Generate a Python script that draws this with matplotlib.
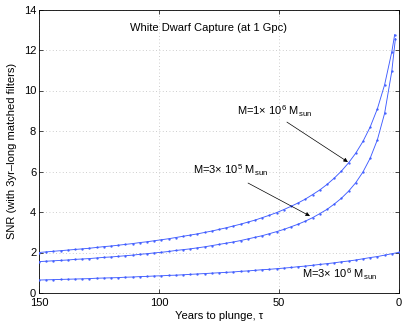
"""
White dwarf capture SNR vs. years to plunge (MATLAB-style line plot).
"""

import matplotlib
matplotlib.use('Agg')
import matplotlib.pyplot as plt

matplotlib.rcParams['font.family'] = ['Liberation Sans', 'DejaVu Sans']
matplotlib.rcParams['mathtext.fontset'] = 'custom'
matplotlib.rcParams['mathtext.rm'] = 'Liberation Sans'
matplotlib.rcParams['mathtext.it'] = 'Liberation Sans:italic'
matplotlib.rcParams['axes.unicode_minus'] = False

# ── data ─────────────────────────────────────────────────────────────────────
tau = [150, 147, 144, 141, 138, 135, 132, 129, 126, 123,
       120, 117, 114, 111, 108, 105, 102, 99, 96, 93,
       90, 87, 84, 81, 78, 75, 72, 69, 66, 63,
       60, 57, 54, 51, 48, 45, 42, 39, 36, 33,
       30, 27, 24, 21, 18, 15, 12, 9, 6, 3]

snr_1e6 = [2.00, 2.03, 2.06, 2.09, 2.12, 2.15, 2.18, 2.21, 2.25, 2.29,
           2.32, 2.36, 2.40, 2.44, 2.49, 2.53, 2.58, 2.63, 2.68, 2.74,
           2.80, 2.86, 2.92, 2.99, 3.06, 3.14, 3.22, 3.31, 3.40, 3.50,
           3.60, 3.72, 3.84, 3.97, 4.12, 4.28, 4.45, 4.64, 4.86, 5.09,
           5.36, 5.67, 6.02, 6.43, 6.91, 7.49, 8.20, 9.10, 10.28, 11.91]
tau_1e6_end = 1.8
snr_1e6_end = 12.76

snr_3e5 = [1.55, 1.57, 1.59, 1.61, 1.63, 1.66, 1.68, 1.70, 1.73, 1.76,
           1.78, 1.81, 1.84, 1.87, 1.91, 1.94, 1.98, 2.01, 2.05, 2.10,
           2.14, 2.18, 2.23, 2.28, 2.34, 2.40, 2.46, 2.52, 2.59, 2.67,
           2.75, 2.83, 2.93, 3.03, 3.14, 3.27, 3.40, 3.55, 3.72, 3.92,
           4.13, 4.39, 4.68, 5.03, 5.45, 5.98, 6.66, 7.57, 8.87, 10.95]
tau_3e5_end = 1.5
snr_3e5_end = 12.56

snr_3e6 = [0.64, 0.65, 0.66, 0.67, 0.68, 0.69, 0.70, 0.71, 0.73, 0.74,
           0.75, 0.76, 0.78, 0.79, 0.81, 0.82, 0.84, 0.85, 0.87, 0.88,
           0.90, 0.92, 0.94, 0.96, 0.98, 1.00, 1.02, 1.04, 1.07, 1.09,
           1.12, 1.15, 1.17, 1.20, 1.23, 1.26, 1.30, 1.33, 1.37, 1.41,
           1.45, 1.49, 1.54, 1.58, 1.63, 1.69, 1.75, 1.80, 1.87, 1.94]
tau_3e6_end = 0.0
snr_3e6_end = 2.01

x_ticks = [150, 100, 50, 0]
y_ticks = [0, 2, 4, 6, 8, 10, 12, 14]

C_LINE = '#3f5cff'
C_GRID = '#bdbdbd'
FS = 8.0


def main():
    fig = plt.figure(figsize=(4.05, 3.27), dpi=100)
    ax = fig.add_axes([39/405, 34/327, 360/405, 283.5/327])

    series = [
        (snr_1e6, tau_1e6_end, snr_1e6_end),
        (snr_3e5, tau_3e5_end, snr_3e5_end),
        (snr_3e6, tau_3e6_end, snr_3e6_end),
    ]
    for vals, t_end, v_end in series:
        ax.plot(tau + [t_end], vals + [v_end], color=C_LINE, lw=0.65,
                marker='.', markersize=1.3, zorder=3)

    ax.set_xlim(150, 0)
    ax.set_ylim(0, 14)
    ax.set_xticks(x_ticks)
    ax.set_yticks(y_ticks)
    ax.tick_params(direction='in', top=True, right=True, length=3,
                   width=0.5, labelsize=FS, pad=2)
    ax.tick_params(axis='x', pad=3.5)
    for s in ax.spines.values():
        s.set_linewidth(0.6)
    ax.grid(True, linestyle=(0, (1, 3)), color=C_GRID, lw=0.6)

    ax.set_xlabel('Years to plunge, τ', fontsize=FS, labelpad=2)
    ax.set_ylabel('SNR (with 3yr\u2013long matched filters)', fontsize=FS,
                  labelpad=5)

    ax.text(79.4, 13.1, 'White Dwarf Capture (at 1 Gpc)', ha='center',
            va='center', fontsize=FS)

    # annotations
    arrow = dict(arrowstyle='-|>', color='black', lw=0.5,
                 mutation_scale=6, shrinkA=0, shrinkB=0)
    ax.annotate('', xy=(21.3, 6.47), xytext=(46.7, 8.44), arrowprops=arrow)
    ax.text(67.5, 9.0, r'M=1$\times$ 10$^6$ M$_{\rm sun}$', ha='left',
            va='center', fontsize=FS)

    ax.annotate('', xy=(37.1, 3.80), xytext=(62.9, 5.43), arrowprops=arrow)
    ax.text(85.8, 6.05, r'M=3$\times$ 10$^5$ M$_{\rm sun}$', ha='left',
            va='center', fontsize=FS)

    ax.text(40.4, 0.92, r'M=3$\times$ 10$^6$ M$_{\rm sun}$', ha='left',
            va='center', fontsize=FS)

    fig.savefig('out.png', dpi=100, facecolor='white')
    plt.close(fig)


if __name__ == '__main__':
    main()
